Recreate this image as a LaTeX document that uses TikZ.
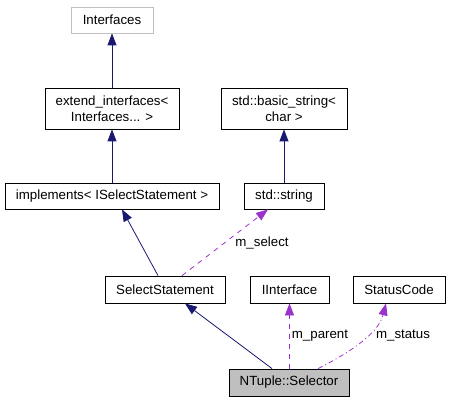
\documentclass[tikz,border=0pt]{standalone}
\usepackage{fontspec}
\setmainfont{Liberation Sans}
\usetikzlibrary{arrows.meta}
\definecolor{edgeblue}{HTML}{191970}
\definecolor{edgepurple}{HTML}{9A32CD}
\definecolor{boxgray}{HTML}{BFBFBF}
\begin{document}
\begin{tikzpicture}[x=1pt,y=-1pt,
  cls/.style={draw=black, line width=0.8pt, rectangle, inner sep=0pt,
    font=\fontsize{13.3}{16}\selectfont, align=center},
  ghost/.style={cls, draw=boxgray},
  current/.style={cls, fill=boxgray},
  inherit/.style={draw=edgeblue, line width=0.8pt, -{Triangle[length=12pt,width=9pt]}},
  member/.style={draw=edgepurple, line width=0.8pt, -{Triangle[length=12pt,width=9pt]}},
  lbl/.style={font=\fontsize{13.3}{16}\selectfont, inner sep=0pt}]
\useasboundingbox (0,0) rectangle (449,403);
\node[ghost, minimum width=82pt, minimum height=26pt] (ifs) at (112,20) {Interfaces};
\node[cls, minimum width=134pt, minimum height=41pt] (ext) at (112,108.5) {extend\_interfaces<\\Interfaces... >};
\node[cls, minimum width=126pt, minimum height=41pt] (bstr) at (284,108.5) {std::basic\_string<\\char >};
\node[cls, minimum width=214pt, minimum height=26pt] (impl) at (112,196) {implements< ISelectStatement >};
\node[cls, minimum width=80pt, minimum height=26pt] (str) at (284,196) {std::string};
\node[cls, minimum width=120pt, minimum height=27pt] (sel) at (165,289.5) {SelectStatement};
\node[cls, minimum width=79pt, minimum height=27pt] (iif) at (289.5,289.5) {IInterface};
\node[cls, minimum width=92pt, minimum height=27pt] (stat) at (399,289.5) {StatusCode};
\node[current, minimum width=120pt, minimum height=27pt] (nt) at (289,382.5) {NTuple::Selector};

\draw[inherit] (ext.north) -- (ifs.south);
\draw[inherit] (impl.north) -- (ext.south);
\draw[inherit] (str.north) -- (bstr.south);
\draw[inherit] ([xshift=-7pt]sel.north) -- ([xshift=10pt]impl.south);
\draw[member, dash pattern=on 5pt off 5pt] ([xshift=17pt]sel.north) -- ([xshift=-16pt]str.south);
\draw[inherit] ([xshift=-17pt]nt.north) -- ([xshift=20pt]sel.south);
\draw[member, dash pattern=on 5pt off 5pt] ([xshift=0.5pt]nt.north) -- (iif.south);
\draw[member, dash pattern=on 5pt off 3pt on 1pt off 3pt] ([xshift=29pt]nt.north) .. controls (345,355) and (378,335) .. ([xshift=-13pt]stat.south);

\node[lbl] (lsel) at (262,243) {m\_select};
\node[lbl] (lpar) at (320,336) {m\_parent};
\node[lbl] (lstat) at (403,336) {m\_status};
\end{tikzpicture}
\end{document}
